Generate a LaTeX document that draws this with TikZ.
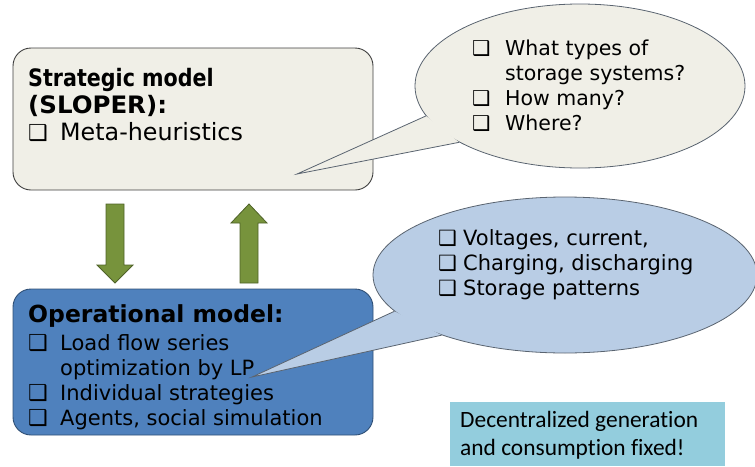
\documentclass[tikz,border=0pt]{standalone}
\usepackage{graphicx}
\usepackage{fontspec}
\setmainfont{DejaVu Sans}
\newfontfamily\calibri[Ligatures=NoCommon]{Carlito}
\usetikzlibrary{positioning,shapes.geometric}

\definecolor{beige}{HTML}{F0EFE7}
\definecolor{boxedge}{HTML}{3F3F3F}
\definecolor{opblue}{HTML}{4F81BD}
\definecolor{opedge}{HTML}{2F4F75}
\definecolor{lightblue}{HTML}{B9CDE5}
\definecolor{bubbleedge}{HTML}{5A6470}
\definecolor{arrowgreen}{HTML}{77933C}
\definecolor{arrowedge}{HTML}{4F6228}
\definecolor{notecyan}{HTML}{93CDDD}

\newcommand{\chk}[1]{\makebox[#1][l]{❑}}
\newcommand{\fs}[1]{\fontsize{#1}{#1}\selectfont}

\begin{document}
\begin{tikzpicture}[x=1pt,y=-1pt,
    modelbox/.style={draw, rounded corners=18pt, line width=0.9pt, inner sep=0pt},
    bubble/.style={draw, ellipse, inner sep=0pt, line width=0.8pt},
    txt/.style={anchor=base west, inner sep=0pt},
    blockarrow/.style={fill=arrowgreen, draw=arrowedge, line width=0.8pt}]
    \useasboundingbox (0,0) rectangle (755,466);

    % Draw model boxes
    \node[modelbox, fill=beige, draw=boxedge, minimum width=360pt, minimum height=142pt] (strat) at (193,119) {};
    \node[modelbox, fill=opblue, draw=opedge, minimum width=360pt, minimum height=146pt] (oper) at (193,362) {};

    % Draw arrows between models
    \draw[blockarrow] (106,204) -- (124,204) -- (124,265) -- (133,265) -- (115,283) -- (97,265) -- (106,265) -- cycle;
    \draw[blockarrow] (240,283) -- (258,283) -- (258,223) -- (267,223) -- (249,204) -- (231,223) -- (240,223) -- cycle;

    % Draw question bubble
    \node[bubble, fill=beige, draw=bubbleedge, minimum width=330pt, minimum height=164pt] (quest) at (580,86) {};
    \coordinate (questtip) at (297,174);
    \fill[beige] (quest.191) -- (questtip) -- (quest.205) -- cycle;
    \draw[bubbleedge, line width=0.8pt] (quest.191) -- (questtip) -- (quest.205);

    % Draw output bubble
    \node[bubble, fill=lightblue, draw=bubbleedge, minimum width=384pt, minimum height=156pt] (outp) at (565,275) {};
    \coordinate (outptip) at (252,377);
    \fill[lightblue] (outp.192) -- (outptip) -- (outp.206) -- cycle;
    \draw[bubbleedge, line width=0.8pt] (outp.192) -- (outptip) -- (outp.206);

    % Draw note
    \node[fill=notecyan, anchor=north west, inner sep=0pt, minimum width=275pt, minimum height=64pt] (note) at (450,402) {};

    % Texts
    \node[txt] (strattxt) at (28,86) {\fontsize{22}{27}\selectfont
        \begin{tabular}[t]{@{}l@{}l@{}}
        \multicolumn{2}{@{}l@{}}{\scalebox{0.86}[1]{\fs{24}\bfseries Strategic model}}\\
        \multicolumn{2}{@{}l@{}}{\scalebox{1.02}[1]{\fs{24}\bfseries (SLOPER):}}\\
        \chk{32pt} & \fs{23.8}Meta-heuristics
        \end{tabular}};
    \node[txt] (opertxt) at (28,322) {\fontsize{22}{25}\selectfont
        \begin{tabular}[t]{@{}l@{}l@{}}
        \multicolumn{2}{@{}l@{}}{\fs{23.5}\bfseries Operational model:}\\[3pt]
        \chk{32pt} & \fs{21}Load flow series\\
         & \fs{21}optimization by LP\\
        \chk{32pt} & \fs{21}Individual strategies\\
        \chk{32pt} & \fs{21}Agents, social simulation
        \end{tabular}};
    \node[txt] (questtxt) at (472,55) {\fontsize{20.5}{25}\selectfont
        \begin{tabular}[t]{@{}l@{}l@{}}
        \chk{33pt} & What types of\\
         & storage systems?\\
        \chk{33pt} & How many?\\
        \chk{33pt} & Where?
        \end{tabular}};
    \node[txt] (outptxt) at (438,245) {\fontsize{21}{25}\selectfont
        \begin{tabular}[t]{@{}l@{}l@{}}
        \chk{25pt} & Voltages, current,\\
        \chk{25pt} & Charging, discharging\\
        \chk{25pt} & Storage patterns
        \end{tabular}};
    \node[txt] (notetxt) at (460,427) {\calibri\fontsize{23.4}{28}\selectfont
        \begin{tabular}[t]{@{}l@{}}
        Decentralized generation\\
        and consumption fixed!
        \end{tabular}};
\end{tikzpicture}
\end{document}
